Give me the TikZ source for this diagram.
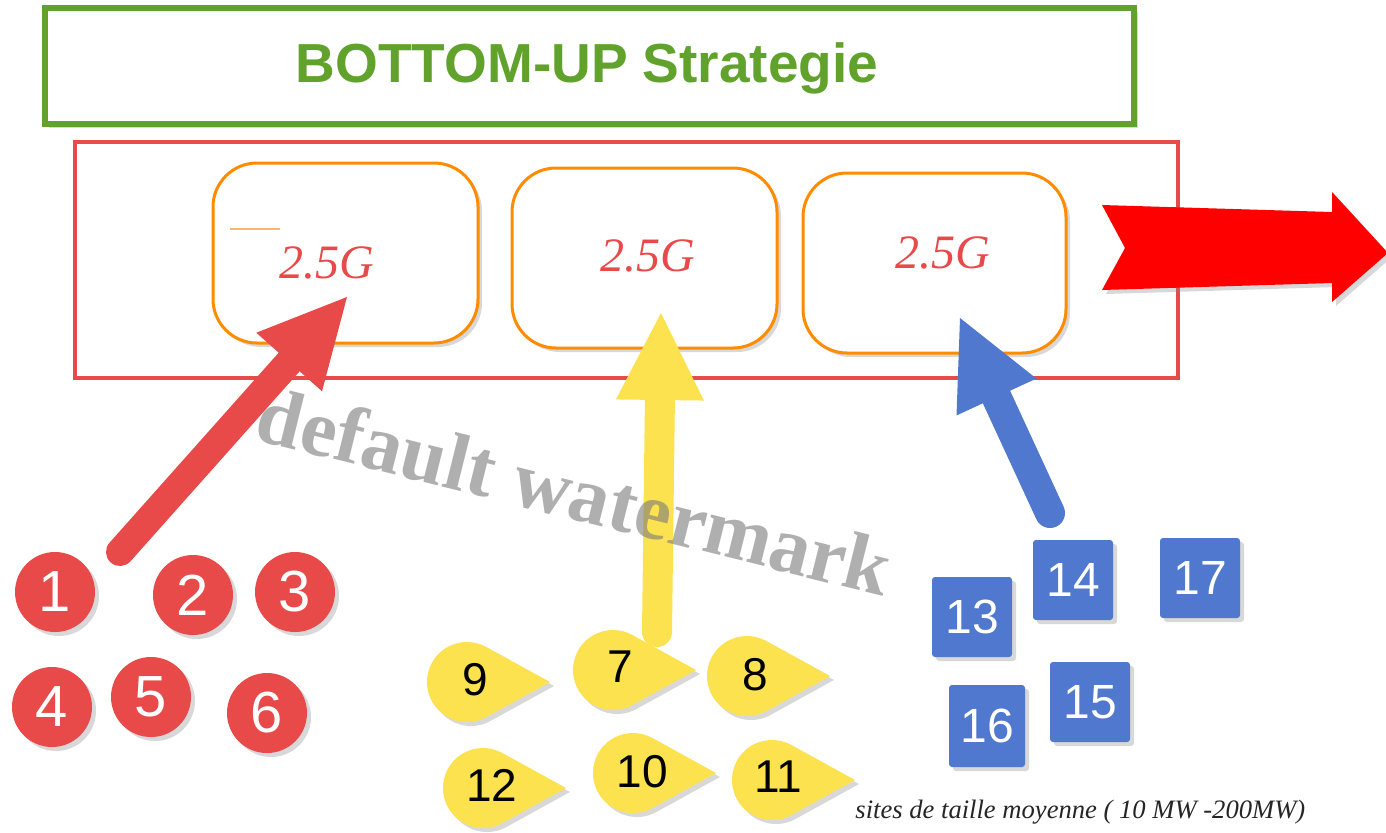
\documentclass[tikz,border=0pt]{standalone}
\usepackage{fontspec}
\setmainfont{Liberation Serif}
\newfontfamily\arialf{Liberation Sans}
\usetikzlibrary{arrows.meta,shadows}
\definecolor{cgreen}{RGB}{96,162,44}
\definecolor{cred}{RGB}{232,74,74}
\definecolor{corange}{RGB}{255,140,0}
\definecolor{cdash}{RGB}{255,180,110}
\definecolor{cyel}{RGB}{253,226,80}
\definecolor{cblue}{RGB}{79,120,206}
\definecolor{cbright}{RGB}{255,0,0}
\begin{document}
\begin{tikzpicture}[x=0.5pt,y=-0.5pt,
  shad/.style={drop shadow={opacity=0.3,shadow xshift=2pt,shadow yshift=-2pt}},
  gbox/.style={draw=cgreen,line width=3pt,fill=white,inner sep=0pt,shad},
  titletext/.style={text=cgreen,font=\arialf\bfseries\fontsize{27.5}{28}\selectfont,inner sep=0pt},
  rbox/.style={draw=cred,line width=2pt,inner sep=0pt},
  obox/.style={draw=corange,line width=1.5pt,fill=white,rounded corners=22pt,inner sep=0pt,shad},
  gtext/.style={text=cred,font=\itshape\fontsize{24}{24}\selectfont,inner sep=0pt},
  rc/.style={circle,fill=cred,minimum size=40pt,inner sep=0pt,text=white,font=\arialf\fontsize{29}{29}\selectfont,shad},
  bsq/.style={rectangle,rounded corners=1.5pt,fill=cblue,minimum size=40pt,inner sep=0pt,text=white,font=\arialf\fontsize{24}{24}\selectfont,shad},
  teartext/.style={text=black,font=\arialf\fontsize{23}{23}\selectfont,inner sep=0pt},
  tear/.pic={\fill[cyel,shad] (83,0) -- (61:40) arc[start angle=61,end angle=299,radius=40] -- cycle;},
  bigarrow/.style={line cap=round,-{Triangle[length=43.5pt,width=44pt,line width=0pt]}},
]
\fill[white] (0,0) rectangle (1386,832);
\useasboundingbox (0,0) rectangle (1386,832);

% title box
\node[gbox,minimum width=544.5pt,minimum height=58pt] (titlebox) at (589.5,66) {};
\node[titletext,anchor=base] (title) at (587,82) {BOTTOM-UP Strategie};

% red frame
\node[rbox,minimum width=551.5pt,minimum height=118pt] (frame) at (626.5,260) {};

% orange boxes
\node[obox,minimum width=132.5pt,minimum height=90pt] (b1) at (345.5,253) {};
\node[obox,minimum width=132.5pt,minimum height=90pt] (b2) at (644.5,258) {};
\node[obox,minimum width=131.5pt,minimum height=90pt] (b3) at (934.5,263) {};
\draw[cdash,line width=1pt] (230,229) -- (280,229);
\node[gtext,anchor=base] (g1) at (327,278) {2.5G};
\node[gtext,anchor=base] (g2) at (648,271) {2.5G};
\node[gtext,anchor=base] (g3) at (943,268) {2.5G};

% big red arrow right
\fill[cbright,shad] (1102,205) -- (1332,212) -- (1332,192) -- (1388,253) -- (1332,302) -- (1332,283) -- (1102,290) -- (1125,248) -- cycle;

% red circles
\node[rc] (c1) at (55,592) {1};
\node[rc] (c2) at (193,595) {2};
\node[rc] (c3) at (295,592) {3};
\node[rc] (c4) at (52,707) {4};
\node[rc] (c5) at (151,697) {5};
\node[rc] (c6) at (267,713) {6};

% blue squares
\node[bsq] (s13) at (972,617) {13};
\node[bsq] (s14) at (1073,580) {14};
\node[bsq] (s17) at (1200,578) {17};
\node[bsq] (s15) at (1090,702) {15};
\node[bsq,minimum width=38pt,minimum height=41pt] (s16) at (987,726) {16};

% yellow teardrops
\pic at (467,682) {tear};
\pic at (613,670) {tear};
\pic at (747,676) {tear};
\pic at (483,788) {tear};
\pic at (633,773) {tear};
\pic at (772,780) {tear};
\node[teartext] (t9) at (475,680) {9};
\node[teartext] (t7) at (620,667) {7};
\node[teartext] (t8) at (755,675) {8};
\node[teartext] (t12) at (492,785) {12};
\node[teartext] (t10) at (642,772) {10};
\node[teartext] (t11) at (778,777) {11};

% arrows
\coordinate (ra0) at (120,552);
\coordinate (ra1) at (347,297);
\coordinate (ya0) at (657,632);
\coordinate (ya1) at (661,313);
\coordinate (ba0) at (1050,513);
\coordinate (ba1) at (960,318);
\draw[bigarrow,cred,line width=14pt] (ra0) -- (ra1);
\draw[bigarrow,cyel,line width=15pt] (ya0) -- (ya1);
\draw[bigarrow,cblue,line width=15pt] (ba0) -- (ba1);

% caption
\node[anchor=base west,inner sep=0pt,text=black!85,font=\itshape\fontsize{13.3}{14}\selectfont] (cap) at (855,818) {sites de taille moyenne ( 10 MW -200MW)};

% watermark
\node[rotate=-14,anchor=base,inner sep=0pt,text=black!52,text opacity=0.6,font=\bfseries\fontsize{40.5}{41}\selectfont] (wm) at (568,518) {default watermark};
\end{tikzpicture}
\end{document}
